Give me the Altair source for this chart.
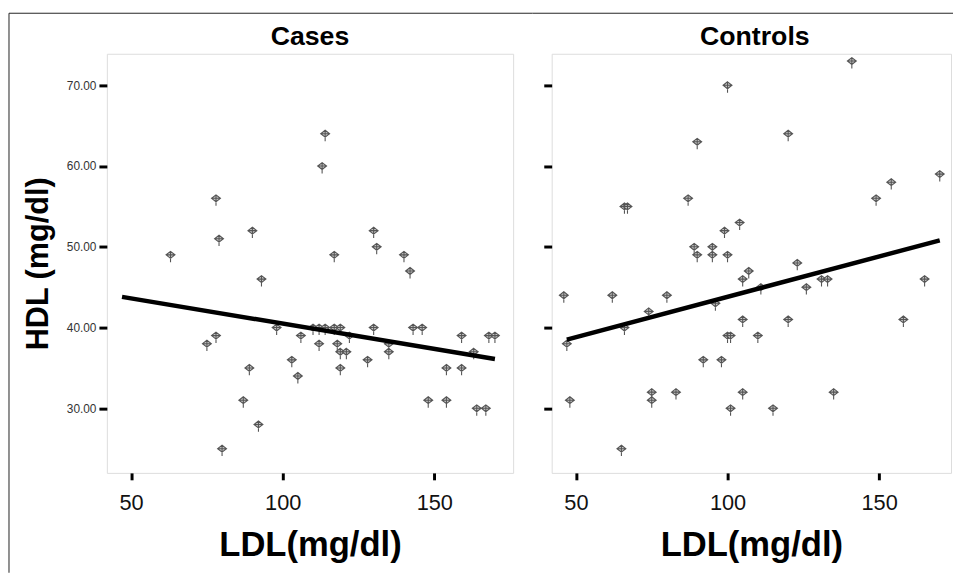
import altair as alt
import pandas as pd

# ---------------- data ----------------
cases_ldl = [63, 78, 79, 90, 93, 98, 75, 78, 89, 103, 105, 87, 92, 80,
             114, 113, 130, 131, 117, 140, 142,
             110, 112, 114, 117, 119, 130, 143, 146,
             106, 122, 159, 168, 170,
             112, 118, 135,
             119, 121, 135, 163,
             128,
             119, 154, 159,
             148, 154,
             164, 167]
cases_hdl = [49, 56, 51, 52, 46, 40, 38, 39, 35, 36, 34, 31, 28, 25,
             64, 60, 52, 50, 49, 49, 47,
             40, 40, 40, 40, 40, 40, 40, 40,
             39, 39, 39, 39, 39,
             38, 38, 38,
             37, 37, 37, 37,
             36,
             35, 35, 35,
             31, 31,
             30, 30]

controls_ldl = [100, 90, 66, 67, 87, 99, 141, 120, 154, 149, 104, 170,
                89, 95, 90, 95, 100,
                46, 62, 80, 74, 96, 66, 47, 100, 101, 110,
                92, 98, 75, 75, 83, 48, 101, 65,
                107, 105, 123, 131, 133, 126, 111, 165,
                105, 120, 158, 105, 135, 115]
controls_hdl = [70, 63, 55, 55, 56, 52, 73, 64, 58, 56, 53, 59,
                50, 50, 49, 49, 49,
                44, 44, 44, 42, 43, 40, 38, 39, 39, 39,
                36, 36, 32, 31, 32, 31, 30, 25,
                47, 46, 48, 46, 46, 45, 45, 46,
                41, 41, 41, 32, 32, 30]

# fit lines (end points)
fit_ldl = [47, 170]
cases_fit_hdl = [43.8, 36.1]
controls_fit_hdl = [38.5, 50.8]

x_ticks = [50, 100, 150]
y_ticks = [30, 40, 50, 60, 70]
panel_titles = ["Cases", "Controls"]

FONT = "Liberation Sans"
MARKER = "M0,-0.7L0.9,0L0,0.7L-0.9,0Z M-0.9,0L0.9,0 M0,-0.7L0,1.5"
Y_DOMAIN = [22, 73.9]
X_MIN = 42
PX_PER_UNIT = 411 / 134.0
H = 424
GAP = 39


def panel(title, ldl, hdl, fit_hdl, width, first):
    xmax = X_MIN + width / PX_PER_UNIT
    pts = pd.DataFrame({"LDL": ldl, "HDL": hdl})
    fit = pd.DataFrame({"LDL": fit_ldl, "HDL": fit_hdl})
    one = pd.DataFrame({"a": [0]})
    ttl = pd.DataFrame({"t": [title]})

    x_axis = alt.Axis(values=x_ticks, title="LDL(mg/dl)", grid=False, domain=False,
                      tickColor="black", tickWidth=3, tickSize=7,
                      labelFont=FONT, labelFontSize=22, labelColor="#111",
                      labelPadding=13, labelFlush=False,
                      titleFont=FONT, titleFontSize=35, titleFontWeight="bold",
                      titleColor="black", titlePadding=15)
    if first:
        y_axis = alt.Axis(values=y_ticks, format=".2f", title="HDL (mg/dl)", grid=False,
                          domain=False, tickColor="black", tickWidth=3, tickSize=8,
                          labelFont=FONT, labelFontSize=12, labelColor="#333",
                          labelPadding=3,
                          titleFont=FONT, titleFontSize=31, titleFontWeight="bold",
                          titleColor="black", titlePadding=12)
    else:
        y_axis = alt.Axis(values=y_ticks, labels=False, title=None, grid=False,
                          domain=False, tickColor="black", tickWidth=3, tickSize=8)

    x = alt.X("LDL:Q", scale=alt.Scale(domain=[X_MIN, xmax], nice=False, zero=False),
              axis=x_axis)
    y = alt.Y("HDL:Q", scale=alt.Scale(domain=Y_DOMAIN, nice=False, zero=False),
              axis=y_axis)

    points = alt.Chart(pts).mark_point(
        shape=MARKER, size=100, filled=True, fill="#c8c8c8", stroke="#555555",
        strokeWidth=1.1, opacity=1
    ).encode(x=x, y=y)
    line = alt.Chart(fit).mark_line(color="black", strokeWidth=4.5).encode(x=x, y=y)

    # panel title as text (centred over the plot area)
    title_mark = alt.Chart(ttl).mark_text(
        font=FONT, fontSize=27, fontWeight="bold", color="black",
        align="center", baseline="alphabetic"
    ).encode(x=alt.value(411 / 2), y=alt.value(-8.5), text="t:N")

    layers = [points, line, title_mark]
    # outer figure frame (decoration)
    if first:
        layers.append(alt.Chart(one).mark_rule(color="#222", strokeWidth=1).encode(
            x=alt.value(-99), y=alt.value(-41), y2=alt.value(525)))
        layers.append(alt.Chart(one).mark_rule(color="#222", strokeWidth=1).encode(
            x=alt.value(-99), x2=alt.value(width + GAP / 2), y=alt.value(-41)))
    else:
        layers.append(alt.Chart(one).mark_rule(color="#222", strokeWidth=1).encode(
            x=alt.value(-GAP / 2), x2=alt.value(width + 2), y=alt.value(-41)))

    return alt.layer(*layers).properties(width=width, height=H)


left = panel(panel_titles[0], cases_ldl, cases_hdl, cases_fit_hdl, 411, True)
right = panel(panel_titles[1], controls_ldl, controls_hdl, controls_fit_hdl, 404, False)

chart = alt.hconcat(left, right, spacing=GAP, bounds="flush").properties(
    padding={"left": 0, "top": 1, "right": 0, "bottom": 0}
).configure_view(stroke="#999999", strokeWidth=1).configure(background="white")

chart.save("out.html", embed_options={"renderer": "svg", "actions": False})
